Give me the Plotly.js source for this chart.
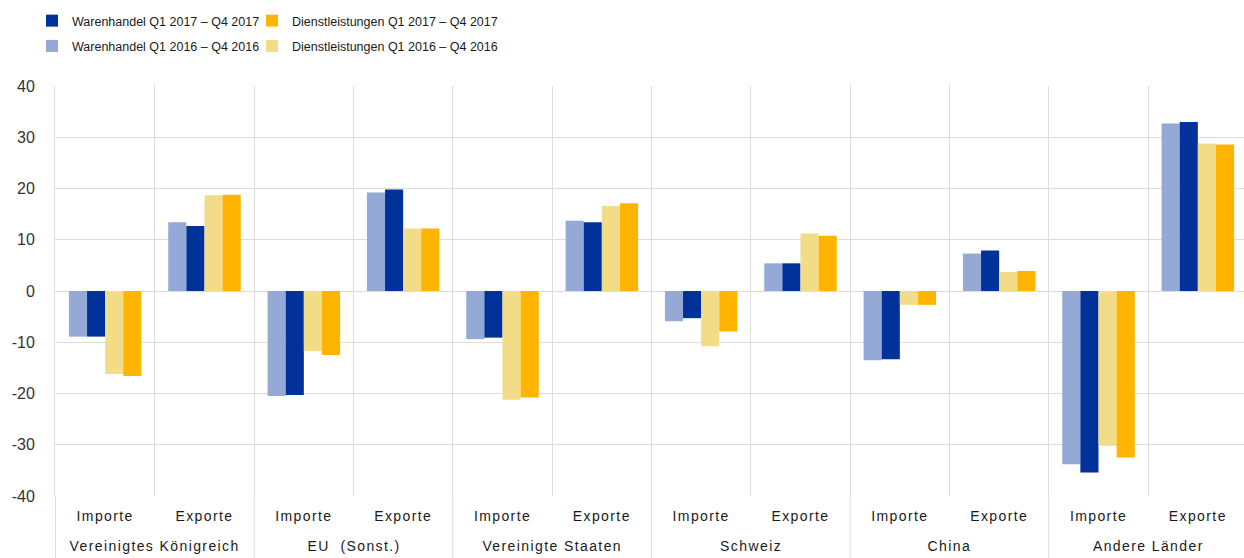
<!DOCTYPE html>
<html>
<head>
<meta charset="utf-8">
<script src="https://cdn.plot.ly/plotly-3.0.1.min.js"></script>
<style>
html,body{margin:0;padding:0;overflow:hidden;background:#fff;}
#chart{width:1248px;height:558px;}
.xtick text, .annotation-text-g text{letter-spacing:1.4px;}
</style>
</head>
<body>
<div id="chart"></div>
<script>
const regions = ["Vereinigtes Königreich", "EU  (Sonst.)", "Vereinigte Staaten", "Schweiz", "China", "Andere Länder"];
const flows = ["Importe", "Exporte"];
const seriesNames = [
  "Warenhandel Q1 2016 – Q4 2016",
  "Warenhandel Q1 2017 – Q4 2017",
  "Dienstleistungen Q1 2016 – Q4 2016",
  "Dienstleistungen Q1 2017 – Q4 2017"
];
const warenhandel2016 = [-8.9, 13.4, -20.5, 19.2, -9.4, 13.7, -5.9, 5.4, -13.5, 7.3, -33.8, 32.7];
const warenhandel2017 = [-8.9, 12.7, -20.3, 19.8, -9.1, 13.4, -5.3, 5.4, -13.3, 7.9, -35.4, 33.0];
const dienst2016 = [-16.2, 18.7, -11.7, 12.2, -21.2, 16.6, -10.8, 11.2, -2.7, 3.7, -30.2, 28.8];
const dienst2017 = [-16.6, 18.8, -12.5, 12.2, -20.8, 17.1, -7.9, 10.8, -2.7, 3.9, -32.5, 28.6];
const yTicks = [-40, -30, -20, -10, 0, 10, 20, 30, 40];

// unique category keys (region + flow); ticks show only the flow
const cats = [], catText = [];
regions.forEach(r => flows.forEach(f => { cats.push(r + " | " + f); catText.push(f); }));

const colors = ["#94A9D5", "#003299", "#F2DC87", "#FFB400"];
const values = [warenhandel2016, warenhandel2017, dienst2016, dienst2017];
const legends = ["legend", "legend", "legend2", "legend2"];
const ranks = [2, 1, 2, 1];

const traces = values.map((v, i) => ({
  type: "bar",
  name: seriesNames[i],
  x: cats,
  y: v,
  marker: {color: colors[i], line: {width: 0}},
  legend: legends[i],
  legendrank: ranks[i],
  legendgroup: "g" + i,
  hoverinfo: "y+name"
}));

const baseFont = "Liberation Sans, Arial, sans-serif";
const gridCol = "#DCDCDC";

// region labels and group dividers, placed via category indices
const annotations = regions.map((r, i) => ({
  text: r, xref: "x", yref: "paper", x: i * flows.length + (flows.length - 1) / 2, y: -0.122,
  xanchor: "center", yanchor: "middle", showarrow: false,
  font: {family: baseFont, size: 14, color: "#1a1a1a"}
}));
const shapes = [];
for (let i = 0; i <= regions.length; i++) {
  shapes.push({type: "line", xref: "x", yref: "paper",
    x0: i * flows.length - 0.5, x1: i * flows.length - 0.5, y0: 0, y1: -0.2,
    line: {color: gridCol, width: 1}, layer: "below"});
}

const legendFont = {family: baseFont, size: 12.5, color: "#1a1a1a"};
const legendBase = {xref: "container", yref: "container", yanchor: "top", xanchor: "left",
  orientation: "v", font: legendFont, traceorder: "grouped", tracegroupgap: 6,
  bgcolor: "rgba(0,0,0,0)", borderwidth: 0};
const layout = {
  width: 1248, height: 558,
  margin: {l: 55, r: 0, t: 86, b: 62, autoexpand: false},
  paper_bgcolor: "#fff", plot_bgcolor: "#fff",
  font: {family: baseFont, size: 14, color: "#1a1a1a"},
  barmode: "group",
  bargap: 0.27,
  bargroupgap: 0,
  showlegend: true,
  legend: Object.assign({}, legendBase, {x: 32 / 1248, y: 1 - 6 / 558}),
  legend2: Object.assign({}, legendBase, {x: 252 / 1248, y: 1 - 6 / 558}),
  annotations: annotations,
  shapes: shapes,
  xaxis: {
    type: "category",
    tickmode: "array", tickvals: cats, ticktext: catText,
    showgrid: true, gridcolor: gridCol, gridwidth: 1,
    tickson: "boundaries",
    ticks: "", showline: false, zeroline: false,
    ticklabelstandoff: 10,
    tickfont: {family: baseFont, size: 14, color: "#1a1a1a"}
  },
  yaxis: {
    range: [-40, 40], tickvals: yTicks, ticktext: yTicks.map(String),
    showgrid: true, gridcolor: gridCol, gridwidth: 1,
    zeroline: true, zerolinecolor: gridCol, zerolinewidth: 1,
    showline: true, linecolor: gridCol, linewidth: 1,
    ticks: "", ticklabelstandoff: 16,
    tickfont: {family: baseFont, size: 16, color: "#333"}
  }
};

Plotly.newPlot("chart", traces, layout, {displayModeBar: false, staticPlot: true});
</script>
</body>
</html>
